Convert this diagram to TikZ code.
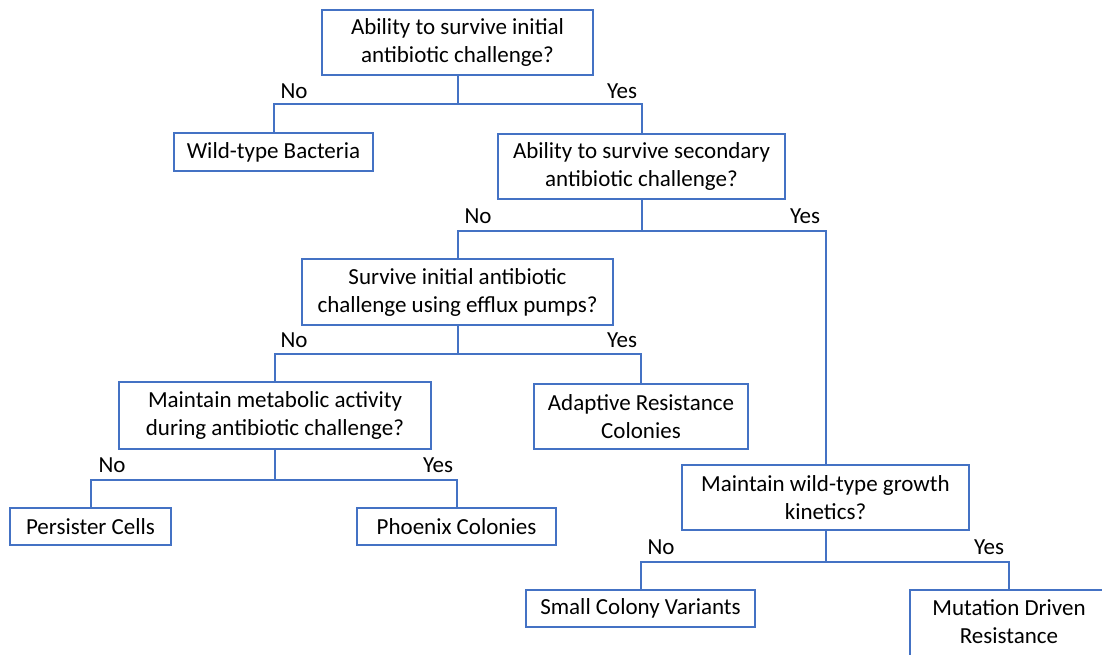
\documentclass[tikz,border=0pt]{standalone}
\usepackage{fontspec}
\setmainfont{Carlito}
\definecolor{boxblue}{HTML}{4472C4}
\begin{document}
\begin{tikzpicture}[x=1pt,y=-1pt,
  box/.style={draw=boxblue,line width=2pt,fill=white,align=center,inner sep=0pt,
    font=\fontsize{23}{28}\selectfont},
  conn/.style={draw=boxblue,line width=2pt},
  lab/.style={font=\fontsize{23}{26}\selectfont,inner sep=0pt}]
\useasboundingbox (0,0) rectangle (1102,654);
\clip (0,0) rectangle (1102,654);
\node[box,minimum width=271pt,minimum height=65pt] (b1) at (457.5,42.5) {Ability to survive initial\\antibiotic challenge?};
\node[box,minimum width=199pt,minimum height=38pt] (b2) at (273.5,152) {Wild-type Bacteria};
\node[box,minimum width=287pt,minimum height=65pt] (b3) at (641.5,166.5) {Ability to survive secondary\\antibiotic challenge?};
\node[box,minimum width=311pt,minimum height=66pt] (b4) at (457.5,292) {Survive initial antibiotic\\challenge using efflux pumps?};
\node[box,minimum width=312pt,minimum height=67pt] (b5) at (275,415.5) {Maintain metabolic activity\\during antibiotic challenge?};
\node[box,minimum width=214pt,minimum height=65pt] (b6) at (641,416.5) {Adaptive Resistance\\Colonies};
\node[box,minimum width=161pt,minimum height=37pt] (b7) at (90.5,526.5) {Persister Cells};
\node[box,minimum width=199pt,minimum height=37pt] (b8) at (456.5,526.5) {Phoenix Colonies};
\node[box,minimum width=287pt,minimum height=65pt] (b9) at (825.5,497.5) {Maintain wild-type growth\\kinetics?};
\node[box,minimum width=229pt,minimum height=37pt] (b10) at (640.5,608.5) {Small Colony Variants};
\node[box,minimum width=198pt,minimum height=72pt,text depth=8pt] (b11) at (1009,626) {Mutation Driven\\Resistance};
% junctions
\coordinate (j1) at (457.5,104);
\coordinate (j2) at (641.5,231);
\coordinate (j3) at (457.5,354);
\coordinate (j4) at (275,480);
\coordinate (j5) at (825.5,562);
\draw[conn] (b1.south) -- (j1);
\draw[conn] (j1) -| (b2.north);
\draw[conn] (j1) -| (b3.north);
\draw[conn] (b3.south) -- (j2);
\draw[conn] (j2) -| (b4.north);
\draw[conn] (j2) -| (b9.north);
\draw[conn] (b4.south) -- (j3);
\draw[conn] (j3) -| (b5.north);
\draw[conn] (j3) -| (b6.north);
\draw[conn] (b5.south) -- (j4);
\draw[conn] (j4) -| (b7.north);
\draw[conn] (j4) -| (b8.north);
\draw[conn] (b9.south) -- (j5);
\draw[conn] (j5) -| (b10.north);
\draw[conn] (j5) -| (b11.north);
% labels
\node[lab] (n1) at (294,91) {No};
\node[lab] (y1) at (622,91) {Yes};
\node[lab] (n2) at (478,216) {No};
\node[lab] (y2) at (805,216) {Yes};
\node[lab] (n3) at (294,340) {No};
\node[lab] (y3) at (622,340) {Yes};
\node[lab] (n4) at (112,465) {No};
\node[lab] (y4) at (438,465) {Yes};
\node[lab] (n5) at (661,547) {No};
\node[lab] (y5) at (989,547) {Yes};
\end{tikzpicture}
\end{document}
